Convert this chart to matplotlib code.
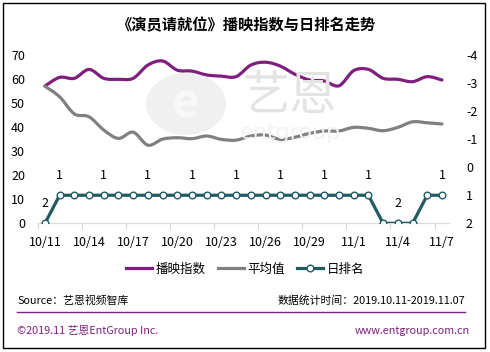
import matplotlib
matplotlib.use("Agg")
import matplotlib.pyplot as plt
from matplotlib.path import Path
from matplotlib.patches import PathPatch, Rectangle, Ellipse
from matplotlib.lines import Line2D
import numpy as np

plt.rcParams['font.family'] = ['Noto Sans CJK SC', 'DejaVu Sans']
plt.rcParams['axes.unicode_minus'] = False

dates = [f"10/{d}" for d in range(11, 32)] + [f"11/{d}" for d in range(1, 8)]
play_index = [57.1, 60.7, 60.3, 64.0, 60.3, 59.9, 60.3, 65.8, 67.5, 63.7, 63.3, 61.7, 61.2, 61.0,
              65.8, 67.0, 65.4, 62.0, 59.6, 59.2, 57.2, 63.5, 64.0, 60.3, 59.9, 58.9, 61.0, 59.6]
avg_value = [57.0, 52.6, 45.5, 44.3, 38.8, 35.3, 37.9, 32.5, 35.0, 35.6, 35.2, 36.3, 34.9, 34.6,
             36.3, 36.7, 34.9, 35.8, 37.4, 38.4, 38.4, 39.9, 39.5, 38.5, 39.9, 42.2, 41.8, 41.3]
daily_rank = [2] + [1] * 22 + [2, 2, 2] + [1, 1]
rank_label_idx = [0, 1, 4, 7, 10, 13, 16, 19, 22, 24, 27]

PURPLE = '#7e1f80'
GRAY = '#808080'
TEAL = '#215a64'

W, H = 490, 352
fig = plt.figure(figsize=(W / 100, H / 100), dpi=100)

def fx(px):
    return px / W

def fy(py):
    return 1 - py / H

# outer border
fig.patches.append(Rectangle((fx(3), fy(348)), fx(482), 345 / H, transform=fig.transFigure,
                             fill=False, edgecolor='black', linewidth=1.0))

# watermark
fig.patches.append(Ellipse((fx(186), fy(104)), 80 / W, 62 / H, transform=fig.transFigure,
                           facecolor='#f0f0f0', edgecolor='none', zorder=0))
fig.text(fx(186), fy(104), 'e', fontsize=34, color='#f8f8f8', ha='center', va='center',
         fontweight='bold', zorder=0.5)
fig.text(fx(290), fy(97), '艺恩', fontsize=34, color='#e3e3e3', ha='center', va='center', zorder=0.5)
fig.text(fx(290), fy(133), 'entgroup', fontsize=16, color='#f2f2f2', ha='center', va='center',
         family=['DejaVu Sans'], zorder=0.5)

# title
fig.text(fx(246), fy(25), '《演员请就位》播映指数与日排名走势', fontsize=11, fontweight='bold',
         ha='center', va='center')

left, right = 37.6, 449.3
top, bottom = 55, 223.3
ax = fig.add_axes([fx(left), fy(bottom), (right - left) / W, (bottom - top) / H])
ax.patch.set_alpha(0)
x = np.arange(len(dates))

def smooth_path(xs, ys):
    pts = np.column_stack([xs, ys]).astype(float)
    n = len(pts)
    verts = [pts[0]]
    codes = [Path.MOVETO]
    for i in range(n - 1):
        p0 = pts[i - 1] if i > 0 else pts[i]
        p1 = pts[i]
        p2 = pts[i + 1]
        p3 = pts[i + 2] if i + 2 < n else pts[i + 1]
        c1 = p1 + (p2 - p0) / 6
        c2 = p2 - (p3 - p1) / 6
        verts += [c1, c2, p2]
        codes += [Path.CURVE4] * 3
    return Path(verts, codes)

ax.add_patch(PathPatch(smooth_path(x, play_index), fill=False, edgecolor=PURPLE,
                       linewidth=2.3, capstyle='round', joinstyle='round', zorder=3))
ax.add_patch(PathPatch(smooth_path(x, avg_value), fill=False, edgecolor=GRAY,
                       linewidth=2.3, capstyle='round', joinstyle='round', zorder=3))

ax.set_xlim(-0.5, len(dates) - 0.5)
ax.set_ylim(0, 70)
ax.set_yticks(range(0, 71, 10))
ax.set_xticks(x[::3])
ax.set_xticklabels(dates[::3])
ax.set_xticks(np.arange(-0.5, len(dates), 3), minor=True)
ax.tick_params(axis='x', which='major', length=0, pad=9, labelsize=9)
ax.tick_params(axis='x', which='minor', length=4, color='#d0d0d0', width=0.8)
ax.tick_params(axis='y', length=0, pad=9, labelsize=9)
for s in ['left', 'right', 'top']:
    ax.spines[s].set_visible(False)
ax.spines['bottom'].set_color('#d9d9d9')
ax.spines['bottom'].set_linewidth(0.9)

ax2 = ax.twinx()
ax2.set_ylim(2, -4)
ax2.set_yticks(range(-4, 3))
ax2.tick_params(axis='y', length=0, pad=12, labelsize=9)
for s in ['left', 'right', 'top', 'bottom']:
    ax2.spines[s].set_visible(False)
ax2.plot(x, daily_rank, color=TEAL, linewidth=2.3, marker='o', markersize=4.8,
         markerfacecolor='white', markeredgecolor=TEAL, markeredgewidth=1.0, zorder=4)
for i in rank_label_idx:
    ax2.annotate(str(daily_rank[i]), (x[i], daily_rank[i]), xytext=(0, 14),
                 textcoords='offset points', ha='center', va='center', fontsize=9)

# legend
handles = [Line2D([], [], color=PURPLE, linewidth=2.3),
           Line2D([], [], color=GRAY, linewidth=2.3),
           Line2D([], [], color=TEAL, linewidth=2.3, marker='o', markersize=4.8,
                  markerfacecolor='white', markeredgecolor=TEAL, markeredgewidth=1.0)]
fig.legend(handles, ['播映指数', '平均值', '日排名'], loc='center', bbox_to_anchor=(fx(245), fy(269)),
           ncol=3, frameon=False, fontsize=9, handlelength=2.1, handletextpad=0.25,
           columnspacing=1.0)

# footer
fig.text(fx(17), fy(301), 'Source：艺恩视频智库', fontsize=7.8, ha='left', va='center')
fig.text(fx(465), fy(301), '数据统计时间：2019.10.11-2019.11.07', fontsize=7.8, ha='right', va='center')
fig.add_artist(Line2D([fx(17), fx(465)], [fy(312), fy(312)], transform=fig.transFigure,
                      color=PURPLE, linewidth=1.0))
fig.text(fx(17), fy(331), '©2019.11 艺恩EntGroup Inc.', fontsize=7.8, ha='left', va='center', color=PURPLE)
fig.text(fx(470), fy(331), 'www.entgroup.com.cn', fontsize=7.8, ha='right', va='center', color=PURPLE)

fig.savefig('out.png', dpi=100)
